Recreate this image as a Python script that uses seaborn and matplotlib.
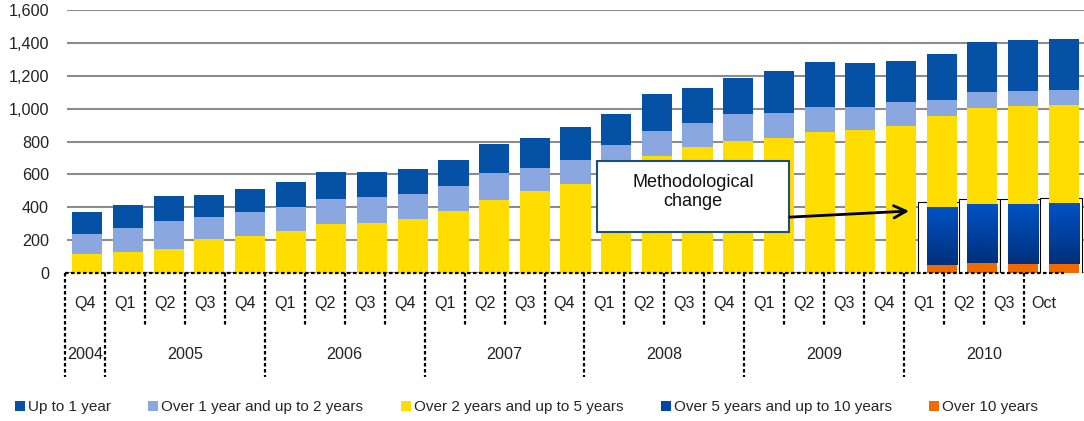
import numpy as np
import pandas as pd
import matplotlib
matplotlib.use("Agg")
import matplotlib.pyplot as plt
import seaborn as sns
from matplotlib.patches import Patch, Rectangle
from matplotlib.colors import LinearSegmentedColormap
from matplotlib.ticker import FuncFormatter

# data
years = ["2004"] + ["2005"] * 4 + ["2006"] * 4 + ["2007"] * 4 + ["2008"] * 4 + ["2009"] * 4 + ["2010"] * 4
quarters = ["Q4"] + ["Q1", "Q2", "Q3", "Q4"] * 5 + ["Q1", "Q2", "Q3", "Oct"]

up_to_1 = [134, 140, 152, 134, 139, 152, 164, 152, 152, 158, 176, 182, 200, 188, 224, 213, 219,
           255, 274, 268, 249, 279, 303, 310, 310]
over_1_2 = [122, 145, 170, 133, 146, 146, 152, 158, 152, 152, 164, 140, 146, 130, 152, 146, 164,
            152, 151, 139, 146, 97, 98, 91, 91]
over_2_5 = [117, 130, 148, 209, 227, 257, 300, 306, 330, 379, 446, 500, 543, 650, 713, 767, 804,
            822, 859, 871, 895, 553, 583, 596, 596]
over_5_10 = [0] * 21 + [352, 358, 364, 370]
over_10 = [0] * 21 + [51, 63, 57, 57]

names = ["Up to 1 year", "Over 1 year and up to 2 years", "Over 2 years and up to 5 years",
         "Over 5 years and up to 10 years", "Over 10 years"]
colors = ["#0451A5", "#8BA7E0", "#FFDD00", "#0047AB", "#F06A00"]

df = pd.DataFrame({"period": [y + " " + q for y, q in zip(years, quarters)],
                   "up_to_1": up_to_1, "over_1_2": over_1_2, "over_2_5": over_2_5,
                   "over_5_10": over_5_10, "over_10": over_10})
# stacking from the bottom: >10, 5-10, 2-5, 1-2, <1
df["c1"] = df["over_10"]
df["c2"] = df["c1"] + df["over_5_10"]
df["c3"] = df["c2"] + df["over_2_5"]
df["c4"] = df["c3"] + df["over_1_2"]
df["c5"] = df["c4"] + df["up_to_1"]

sns.set_style("white")
plt.rcParams["font.family"] = ["Liberation Sans", "DejaVu Sans"]
fs = 11.6

fig = plt.figure(figsize=(10.84, 4.21), dpi=100)
ax = fig.add_axes([67 / 1084, 148 / 421, 1017 / 1084, 263 / 421])

bw = 0.74
new = df.index[df["over_5_10"] > 0]

# white boxes with thin outline behind the 2010 bars
for i in new:
    ax.add_patch(Rectangle((i - 0.57, 0), 1.01, df.loc[i, "c2"] + 27, facecolor="white",
                           edgecolor="black", lw=0.8, zorder=1))

layers = [("c5", colors[0]), ("c4", colors[1]), ("c3", colors[2]), ("c2", colors[3])]
for col, c in layers:
    n0 = len(ax.patches)
    sns.barplot(data=df, x="period", y=col, color=c, saturation=1, width=bw, errorbar=None, ax=ax)
    for p in ax.patches[n0:]:
        p.set_zorder(2)
        p.set_linewidth(0)

# gradient fill for the 5-10 year segment (lighter at the top)
grad = np.linspace(0, 1, 100).reshape(-1, 1)
cmap = LinearSegmentedColormap.from_list("b2", ["#0052C4", "#00307C"])
for i in new:
    ax.imshow(grad, extent=[i - bw / 2, i + bw / 2, df.loc[i, "c1"], df.loc[i, "c2"]],
              aspect="auto", cmap=cmap, zorder=2.5, origin="upper")

n0 = len(ax.patches)
sns.barplot(data=df, x="period", y="c1", color=colors[4], saturation=1, width=bw, errorbar=None, ax=ax)
for p in ax.patches[n0:]:
    p.set_zorder(3)
    p.set_linewidth(0)

ax.set_xlim(-0.5, len(df) - 0.5)
ax.set_ylim(0, 1600)
ax.set_yticks(range(0, 1601, 200))
ax.yaxis.set_major_formatter(FuncFormatter(lambda v, p: f"{v:,.0f}"))
ax.set_xticks([])
ax.set_xlabel("")
ax.set_ylabel("")
ax.tick_params(axis="y", length=0, pad=13, labelsize=fs, labelcolor="#222222")
ax.yaxis.grid(True, color="#8C8C8C", linewidth=1.5)
ax.set_axisbelow(True)
for s in ax.spines.values():
    s.set_visible(False)

# annotation
ax.add_patch(Rectangle((12.53, 249), 4.72, 432, facecolor="white", edgecolor="#1F4E79",
                       lw=1.5, zorder=6))
ax.text(14.89, 495, "Methodological\nchange", ha="center", va="center", fontsize=13,
        linespacing=1.15, color="#111111", zorder=7)
ax.annotate("", xy=(20.2, 377), xytext=(17.27, 340), zorder=7,
            arrowprops=dict(arrowstyle="->", lw=2, color="black", mutation_scale=22,
                            shrinkA=0, shrinkB=0))

# category table under the bars
lab = fig.add_axes([65 / 1084, 44 / 421, 999 / 1084, 104 / 421])
lab.set_xlim(0, len(df))
lab.set_ylim(1, 0)
lab.axis("off")
dash = (0, (1.6, 1.1))
lab.plot([0, len(df)], [0, 0], color="black", lw=1.6, linestyle=dash, clip_on=False)
for k in range(len(df)):
    ybot = 1 if (k == 0 or years[k] != years[k - 1]) else 0.5
    lab.plot([k, k], [0, ybot], color="black", lw=1.6, linestyle=dash, clip_on=False)
    lab.text(k + 0.5, 0.29, quarters[k], ha="center", va="center", fontsize=fs, color="#222222")
for y in dict.fromkeys(years):
    idx = [k for k, v in enumerate(years) if v == y]
    lab.text((idx[0] + idx[-1] + 1) / 2, 0.78, y, ha="center", va="center", fontsize=fs,
             color="#222222")

handles = [Patch(facecolor=c, edgecolor="none") for c in colors]
fig.legend(handles, names, loc="center left", bbox_to_anchor=(15 / 1084, 14 / 421), ncol=5,
           frameon=False, fontsize=11, handlelength=0.65, handleheight=0.65, handletextpad=0.2,
           columnspacing=2.45, borderaxespad=0, borderpad=0)

fig.savefig("out.png", dpi=100)
